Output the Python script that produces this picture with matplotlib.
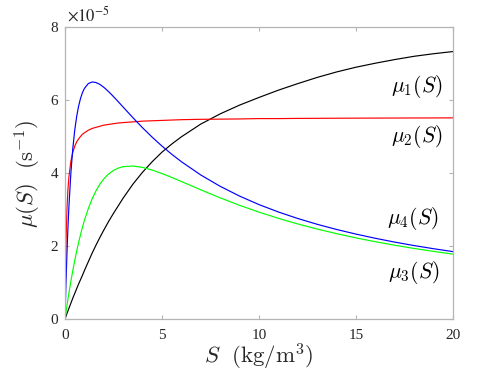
import matplotlib
matplotlib.use("Agg")
import matplotlib.pyplot as plt

plt.rcParams['mathtext.fontset'] = 'cm'
plt.rcParams['font.family'] = ['Liberation Serif', 'DejaVu Serif']

# Substrate concentration S (kg/m^3)
S = [0, 0.05, 0.1, 0.15, 0.2, 0.3, 0.4, 0.5, 0.6, 0.7, 0.8, 0.9, 1.0, 1.2, 1.4,
     1.6, 1.8, 2.0, 2.25, 2.5, 2.75, 3.0, 3.5, 4.0, 4.5, 5.0, 5.5, 6.0, 7, 8, 9,
     10, 11, 12, 13, 14, 15, 16, 17, 18, 19, 20]

# growth rates, in units of 1e-5 s^-1
mu1 = [0, 0.075, 0.15, 0.22, 0.29, 0.43, 0.57, 0.70, 0.83, 0.96, 1.08, 1.20, 1.33,
       1.57, 1.81, 2.03, 2.24, 2.44, 2.68, 2.90, 3.11, 3.32, 3.70, 4.03, 4.32, 4.58,
       4.80, 5.00, 5.35, 5.63, 5.87, 6.08, 6.28, 6.46, 6.63, 6.78, 6.91, 7.02, 7.12,
       7.21, 7.28, 7.34]
mu2 = [0, 2.06, 3.00, 3.54, 3.89, 4.32, 4.57, 4.74, 4.86, 4.94, 5.01, 5.07, 5.11,
       5.18, 5.23, 5.26, 5.29, 5.32, 5.34, 5.36, 5.38, 5.39, 5.41, 5.43, 5.44, 5.45,
       5.46, 5.47, 5.48, 5.485, 5.49, 5.50, 5.50, 5.505, 5.507, 5.51, 5.512, 5.514,
       5.515, 5.517, 5.518, 5.52]
mu3 = [0, 0.185, 0.364, 0.538, 0.706, 1.026, 1.324, 1.602, 1.859, 2.097, 2.316, 2.518,
       2.704, 3.029, 3.299, 3.521, 3.701, 3.845, 3.981, 4.079, 4.143, 4.182, 4.198,
       4.160, 4.087, 3.992, 3.886, 3.773, 3.545, 3.325, 3.120, 2.933, 2.763, 2.608,
       2.469, 2.342, 2.226, 2.121, 2.024, 1.936, 1.855, 1.780]
mu4 = [0, 0.980, 1.797, 2.484, 3.066, 3.986, 4.666, 5.173, 5.553, 5.840, 6.054, 6.213,
       6.327, 6.461, 6.505, 6.490, 6.437, 6.359, 6.239, 6.103, 5.960, 5.815, 5.525,
       5.247, 4.987, 4.745, 4.522, 4.317, 3.952, 3.641, 3.373, 3.140, 2.937, 2.758,
       2.599, 2.457, 2.330, 2.215, 2.110, 2.015, 1.929, 1.849]

xticks = [0, 5, 10, 15, 20]
yticks = [0, 2, 4, 6, 8]

fig = plt.figure(figsize=(5, 3.75), dpi=100)
ax = fig.add_axes([0.13, 0.1493, 0.776, 0.7774])

lw = 0.85
ax.plot(S, mu1, color='k', lw=lw)
ax.plot(S, mu2, color='#ff0000', lw=lw)
ax.plot(S, mu3, color='#00ff00', lw=lw)
ax.plot(S, mu4, color='#0000ff', lw=lw)

ax.set_xlim(0, 20)
ax.set_ylim(0, 8)
ax.set_xticks(xticks)
ax.set_yticks(yticks)
ax.set_xticklabels([str(t) for t in xticks])
ax.set_yticklabels([str(t) for t in yticks])

axcol = '#b4b4b4'
for sp in ax.spines.values():
    sp.set_color(axcol)
    sp.set_linewidth(0.9)
ax.tick_params(direction='in', length=3, width=0.8, color=axcol,
               top=True, right=True, labelsize=11, labelcolor='#262626')
ax.tick_params(axis='x', pad=7)
ax.tick_params(axis='y', pad=5)

ax.set_xlabel(r'$S\ \ (\mathrm{kg/m^3})$', fontsize=16.5, color='#262626', labelpad=0)
ax.set_ylabel(r'$\mu(S)\ \ (\mathrm{s}^{-1})$', fontsize=16.5, color='#262626', labelpad=5)

ax.text(0.005, 1.008, r'$\times10^{-5}$', transform=ax.transAxes, fontsize=12,
        math_fontfamily='stix', color='#262626', ha='left', va='bottom')

lab_fs = 15.5
ax.text(19.46, 6.39, r'$\mu_1(S)$', fontsize=lab_fs, ha='right', va='center')
ax.text(19.46, 5.02, r'$\mu_2(S)$', fontsize=lab_fs, ha='right', va='center')
ax.text(19.25, 2.77, r'$\mu_4(S)$', fontsize=lab_fs, ha='right', va='center')
ax.text(19.3, 1.29, r'$\mu_3(S)$', fontsize=lab_fs, ha='right', va='center')

fig.savefig('out.png', dpi=100)
